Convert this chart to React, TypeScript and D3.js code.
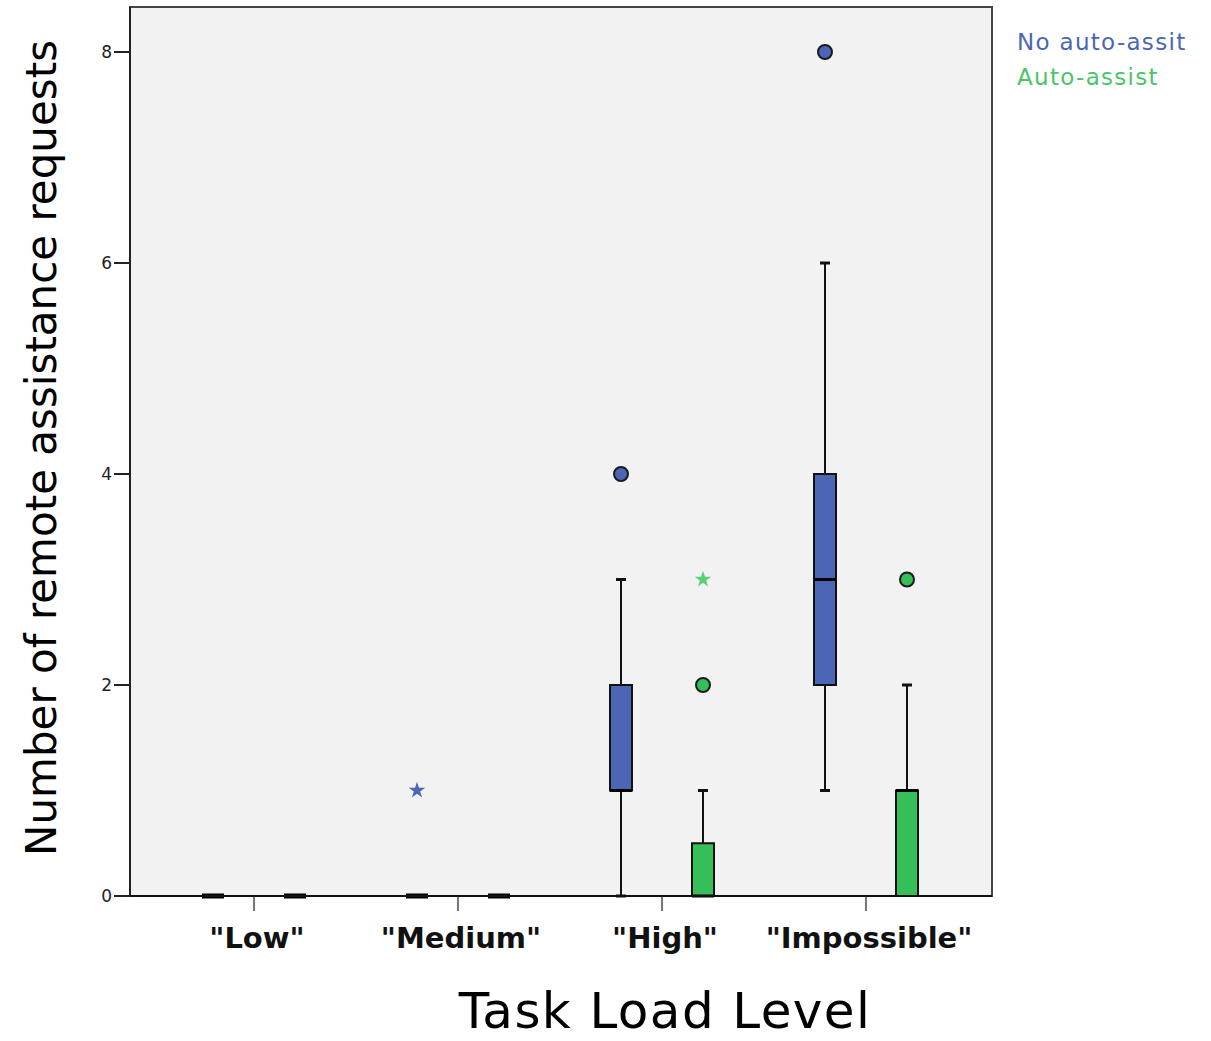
import React from "react";
import * as d3 from "d3";

const categories = ['"Low"', '"Medium"', '"High"', '"Impossible"'];
const groups = ["No auto-assit", "Auto-assist"];
const groupColors = ["#4a66b4", "#36be58"];
const legendColors = ["#4a66b4", "#4cc46a"];
const starColors = ["#4a66b4", "#5ccf78"];

// [min, q1, median, q3, max] per category
const noAssistBoxes = [
  [0, 0, 0, 0, 0],
  [0, 0, 0, 0, 0],
  [0, 1, 1, 2, 3],
  [1, 2, 3, 4, 6],
];
const assistBoxes = [
  [0, 0, 0, 0, 0],
  [0, 0, 0, 0, 0],
  [0, 0, 0, 0.5, 1],
  [0, 0, 1, 1, 2],
];
// outliers: [categoryIndex, value, type] type: "o" circle, "*" extreme
const noAssistOutliers: [number, number, string][] = [
  [1, 1, "*"],
  [2, 4, "o"],
  [3, 8, "o"],
];
const assistOutliers: [number, number, string][] = [
  [2, 3, "*"],
  [2, 2, "o"],
  [3, 3, "o"],
];
const yTicks = [0, 2, 4, 6, 8];

const W = 1211;
const H = 1041;
const plot = { left: 130, right: 992, top: 7, bottom: 896 };

export default function App() {
  const x = d3
    .scalePoint<string>()
    .domain(categories)
    .range([254, 866]);
  const y = d3.scaleLinear().domain([0, 8]).range([plot.bottom, 52]);
  const offsets = [-41, 41];
  const boxW = 22;
  const capW = 10;
  const series = [noAssistBoxes, assistBoxes];
  const outliers = [noAssistOutliers, assistOutliers];
  const starPath = d3.symbol().type(d3.symbolStar).size(85)() as string;

  return (
    <svg
      width={W}
      height={H}
      style={{ position: "absolute", left: 0, top: 0, background: "#fff" }}
    >
      <rect
        x={plot.left}
        y={plot.top}
        width={plot.right - plot.left}
        height={plot.bottom - plot.top}
        fill="#f2f2f2"
        stroke="#444"
        strokeWidth={2}
      />
      {/* y axis */}
      <line x1={plot.left} x2={plot.left} y1={plot.top} y2={plot.bottom} stroke="#222" strokeWidth={2} />
      {yTicks.map((t) => (
        <g key={t}>
          <line x1={plot.left - 16} x2={plot.left} y1={y(t)} y2={y(t)} stroke="#222" strokeWidth={2} />
          <text
            x={plot.left - 18}
            y={y(t)}
            textAnchor="end"
            dominantBaseline="central"
            fontFamily="DejaVu Sans, sans-serif"
            fontSize={17}
            fill="#222"
          >
            {t}
          </text>
        </g>
      ))}
      {/* x ticks */}
      {categories.map((c) => (
        <line key={c} x1={x(c)} x2={x(c)} y1={plot.bottom} y2={plot.bottom + 15} stroke="#777" strokeWidth={2} />
      ))}
      {categories.map((c) => (
        <text
          key={c}
          x={x(c)! + 3}
          y={948}
          textAnchor="middle"
          fontFamily="DejaVu Sans, sans-serif"
          fontWeight="bold"
          fontSize={29}
          fill="#111"
        >
          {c}
        </text>
      ))}
      {/* boxes */}
      {series.map((boxes, gi) =>
        boxes.map((b, ci) => {
          const cx = x(categories[ci])! + offsets[gi];
          const [mn, q1, md, q3, mx] = b;
          const flat = q1 === q3;
          return (
            <g key={`${gi}-${ci}`}>
              {mx > q3 && (
                <>
                  <line x1={cx} x2={cx} y1={y(q3)} y2={y(mx)} stroke="#111" strokeWidth={2} />
                  <line x1={cx - capW / 2} x2={cx + capW / 2} y1={y(mx)} y2={y(mx)} stroke="#111" strokeWidth={3} />
                </>
              )}
              {mn < q1 && (
                <>
                  <line x1={cx} x2={cx} y1={y(q1)} y2={y(mn)} stroke="#111" strokeWidth={2} />
                  <line x1={cx - capW / 2} x2={cx + capW / 2} y1={y(mn)} y2={y(mn)} stroke="#111" strokeWidth={3} />
                </>
              )}
              {!flat && (
                <rect
                  x={cx - boxW / 2}
                  y={y(q3)}
                  width={boxW}
                  height={y(q1) - y(q3)}
                  fill={groupColors[gi]}
                  stroke="#111"
                  strokeWidth={2}
                />
              )}
              <line
                x1={cx - boxW / 2}
                x2={cx + boxW / 2}
                y1={y(md)}
                y2={y(md)}
                stroke="#000"
                strokeWidth={flat ? 5 : 3}
              />
            </g>
          );
        })
      )}
      {/* x axis line */}
      <line x1={plot.left} x2={plot.right} y1={plot.bottom} y2={plot.bottom} stroke="#111" strokeWidth={2} />
      {/* outliers */}
      {outliers.map((list, gi) =>
        list.map(([ci, v, t], i) => {
          const cx = x(categories[ci])! + offsets[gi];
          return t === "o" ? (
            <circle key={`${gi}-${i}`} cx={cx} cy={y(v)} r={7} fill={groupColors[gi]} stroke="#1a1a1a" strokeWidth={2} />
          ) : (
            <path key={`${gi}-${i}`} d={starPath} transform={`translate(${cx},${y(v)})`} fill={starColors[gi]} />
          );
        })
      )}
      {/* legend */}
      {groups.map((g, i) => (
        <text
          key={g}
          x={1017}
          y={50 + i * 35}
          fontFamily="DejaVu Sans, sans-serif"
          fontSize={23}
          letterSpacing={1.3}
          fill={legendColors[i]}
        >
          {g}
        </text>
      ))}
      {/* axis titles */}
      <text
        transform={`translate(56,448) rotate(-90)`}
        textAnchor="middle"
        fontFamily="DejaVu Sans, sans-serif"
        fontSize={42}
        fill="#000"
      >
        Number of remote assistance requests
      </text>
      <text
        x={665}
        y={1028}
        textAnchor="middle"
        fontFamily="DejaVu Sans, sans-serif"
        fontSize={50}
        letterSpacing={1.4}
        fill="#000"
      >
        Task Load Level
      </text>
    </svg>
  );
}
